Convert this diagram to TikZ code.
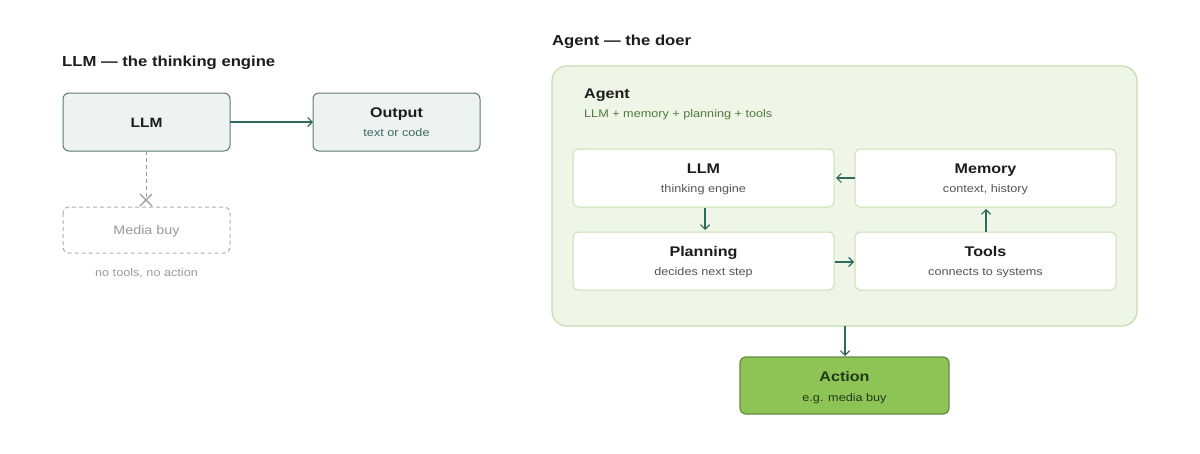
\documentclass[tikz,border=0pt]{standalone}
\usepackage{fontspec}
\setmainfont[FakeStretch=1.15]{Liberation Sans}
\usetikzlibrary{arrows.meta,calc}
\definecolor{tealline}{HTML}{2E6A5E}
\definecolor{graybox}{HTML}{EEF2F1}
\definecolor{grayborder}{HTML}{5C7D74}
\definecolor{darktext}{HTML}{1C1C1C}
\definecolor{subteal}{HTML}{3D6B5E}
\definecolor{mutedgray}{HTML}{9A9A9A}
\definecolor{agentfill}{HTML}{EFF5E7}
\definecolor{agentborder}{HTML}{C4DDAE}
\definecolor{innerborder}{HTML}{C9E0B4}
\definecolor{agentsub}{HTML}{4F7A3E}
\definecolor{subgray}{HTML}{555555}
\definecolor{actionfill}{HTML}{8EC456}
\definecolor{actionborder}{HTML}{5E8E3C}
\definecolor{actiontext}{HTML}{1E3A18}
\tikzset{
  title/.style={anchor=base west, font=\bfseries\fontsize{14.5}{16}\selectfont, text=darktext, inner sep=0},
  graynode/.style={draw=grayborder, fill=graybox, rounded corners=6pt, line width=1pt},
  innernode/.style={draw=innerborder, fill=white, rounded corners=5pt, line width=1pt},
  head/.style={anchor=base, font=\bfseries\fontsize{14}{16}\selectfont, text=darktext, inner sep=0},
  sub/.style={anchor=base, font=\fontsize{11}{13}\selectfont, text=subgray, inner sep=0},
  conn/.style={draw=tealline, line width=1.2pt, -{Straight Barb[length=4.5pt,width=9pt]}},
}
\begin{document}
\begin{tikzpicture}[x=1pt,y=-1pt]
\useasboundingbox (0,0) rectangle (1200,453);
\fill[white] (0,0) rectangle (1200,453);

% ---------- left ----------
\node[title] (t1) at (62,66) {LLM — the thinking engine};
\draw[graynode] (63,93) rectangle (230,151);
\node[head, font=\bfseries\fontsize{13.5}{15}\selectfont] (llm1) at (146.5,127) {LLM};
\coordinate (llmR) at (230,122);
\coordinate (llmB) at (146,151);
\draw[graynode] (313,93) rectangle (480,151);
\node[head] (out) at (396.5,117) {Output};
\node[sub, text=subteal] (outsub) at (396.5,136) {text or code};
\coordinate (outL) at (313,122);
\draw[conn] (llmR) -- (outL);

\coordinate (xm) at (146,200);
\draw[mutedgray, line width=1pt, dash pattern=on 4pt off 3pt] (llmB) -- (xm);
\draw[mutedgray, line width=1.2pt] ($(xm)+(-6,-6)$) -- ($(xm)+(6,6)$) ($(xm)+(-6,6)$) -- ($(xm)+(6,-6)$);
\draw[mutedgray!80, line width=1pt, dash pattern=on 4pt off 3pt, rounded corners=6pt] (63,207) rectangle (230,253);
\node[sub, font=\fontsize{12.5}{14}\selectfont, text=mutedgray] (media) at (146.5,234) {Media buy};
\node[sub, text=mutedgray] (notools) at (146.5,276) {no tools, no action};

% ---------- right ----------
\node[title] (t2) at (552,45) {Agent — the doer};
\draw[draw=agentborder, fill=agentfill, line width=1.2pt, rounded corners=15pt] (552,66) rectangle (1137,326);
\node[head, anchor=base west] (agent) at (584,98) {Agent};
\node[sub, anchor=base west, text=agentsub] (agentsub) at (584,117) {LLM + memory + planning + tools};

\draw[innernode] (573,149) rectangle (834,207);
\node[head] (llm2) at (703.5,173) {LLM};
\node[sub] at (703.5,192) {thinking engine};
\draw[innernode] (855,149) rectangle (1116,207);
\node[head] (mem) at (985.5,173) {Memory};
\node[sub] at (985.5,192) {context, history};
\draw[innernode] (573,232) rectangle (834,290);
\node[head] (plan) at (703.5,256) {Planning};
\node[sub] at (703.5,275) {decides next step};
\draw[innernode] (855,232) rectangle (1116,290);
\node[head] (tools) at (985.5,256) {Tools};
\node[sub] at (985.5,275) {connects to systems};

\coordinate (memL) at (855,178);
\coordinate (llmRi) at (836,178);
\coordinate (llmBo) at (705,208);
\coordinate (planT) at (705,230);
\coordinate (planR) at (835,262);
\coordinate (toolsL) at (854,262);
\coordinate (toolsT) at (986,232);
\coordinate (memB) at (986,209);
\draw[conn] (memL) -- (llmRi);
\draw[conn] (llmBo) -- (planT);
\draw[conn] (planR) -- (toolsL);
\draw[conn] (toolsT) -- (memB);

\coordinate (agB) at (845,326);
\coordinate (actT) at (845,356);
\draw[conn] (agB) -- (actT);
\draw[draw=actionborder, fill=actionfill, line width=1.2pt, rounded corners=6pt] (740,357) rectangle (949,414);
\node[head, text=actiontext] (action) at (844.5,381) {Action};
\node[sub, text=actiontext] (actsub) at (844.5,401) {e.g. media buy};
\end{tikzpicture}
\end{document}
